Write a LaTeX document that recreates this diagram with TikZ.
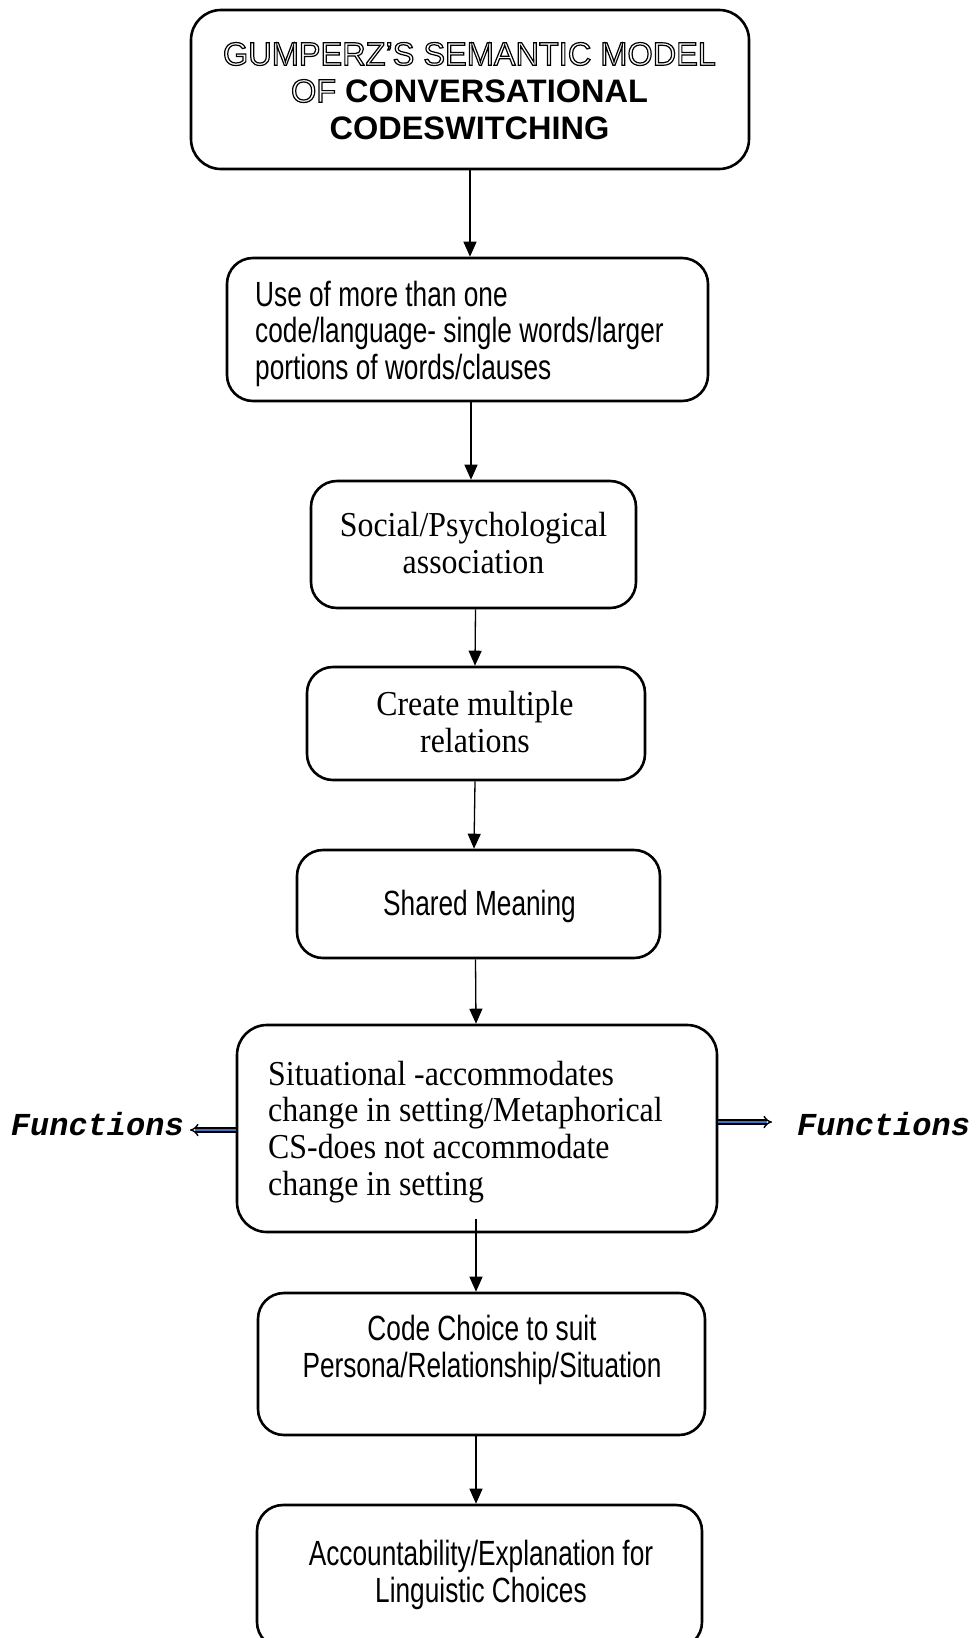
\documentclass[tikz,border=0pt]{standalone}
\usepackage{fontspec}
\setmainfont{Liberation Serif}
\newfontfamily\titlefont{Liberation Sans}
\newfontfamily\armfont[FakeStretch=0.75]{Liberation Sans}
\newfontfamily\tmfont[FakeStretch=0.91]{Liberation Serif}
\newfontfamily\crfont{Liberation Mono}
\usetikzlibrary{arrows.meta}
\newcommand{\outlinedtxt}[1]{\special{pdf:literal direct 1 Tr 1.2 w}#1\special{pdf:literal direct 0 Tr}}
\definecolor{funcblue}{HTML}{4472C4}
\begin{document}
\begin{tikzpicture}[x=1pt,y=-1pt,
  box/.style={draw, line width=2.6pt, rounded corners=26pt, inner sep=0pt, fill=white},
  ttl/.style={font=\titlefont\fontsize{32.5}{37}\selectfont, align=center, inner sep=0pt},
  arm/.style={font=\armfont\fontsize{35}{36.5}\selectfont, inner sep=0pt},
  tms/.style={font=\tmfont\fontsize{35}{36.7}\selectfont, inner sep=0pt},
  func/.style={font=\crfont\bfseries\itshape\fontsize{32}{32}\selectfont, inner sep=0pt},
  arr/.style={line width=1.3pt, -{Triangle[length=15pt,width=13pt]}},
  farr/.style={double=funcblue, double distance=2.8pt, line width=1.4pt, -{Implies}}
]
\fill[white] (0,0) rectangle (977,1638);
\useasboundingbox (0,0) rectangle (977,1638);

% boxes
\node[box, rounded corners=30pt, minimum width=558pt, minimum height=159pt] (b1) at (470,89.5) {};
\node[box, minimum width=481pt, minimum height=143pt] (b2) at (467.5,329.5) {};
\node[box, minimum width=325pt, minimum height=127pt] (b3) at (473.5,544.5) {};
\node[box, minimum width=338pt, minimum height=113pt] (b4) at (476,723.5) {};
\node[box, minimum width=363pt, minimum height=108pt] (b5) at (478.5,904) {};
\node[box, rounded corners=30pt, minimum width=480pt, minimum height=207pt] (b6) at (477,1128.5) {};
\node[box, minimum width=447pt, minimum height=142pt] (b7) at (481.5,1364) {};
\node[box, minimum width=445pt, minimum height=143pt] (b8) at (479.5,1576.5) {};

% texts
\node[ttl] (t1) at (469.5,91) {\outlinedtxt{GUMPERZ’S SEMANTIC MODEL}\\\outlinedtxt{OF} \textbf{CONVERSATIONAL}\\\textbf{CODESWITCHING}};
\node[arm, align=left, anchor=west] (t2) at (255,333.5) {Use of more than one\\code/language- single words/larger\\portions of words/clauses};
\node[tms, align=center] (t3) at (473.5,543) {Social/Psychological\\association};
\node[tms, align=center] (t4) at (475,721.8) {Create multiple\\relations};
\node[arm, align=center] (t5) at (479.5,906) {Shared Meaning};
\node[tms, align=left, anchor=west] (t6) at (268,1131.8) {Situational -accommodates\\change in setting/Metaphorical\\CS-does not accommodate\\change in setting};
\node[arm, align=center] (t7) at (482,1349.7) {Code Choice to suit\\Persona/Relationship/Situation};
\node[arm, align=center] (t8) at (481,1574.7) {Accountability/Explanation for\\Linguistic Choices};

% side labels
\node[func, anchor=base east] (fnl) at (184,1135) {Functions};
\node[func, anchor=base west] (fnr) at (797,1135) {Functions};

% connectors
\draw[arr] (b1.south -| 470,0) -- (b2.north -| 470,0);
\draw[arr] (b2.south -| 471,0) -- (b3.north -| 471,0);
\draw[arr] (b3.south -| 475.5,0) -- (b4.north -| 475,0);
\draw[arr] (b4.south -| 475,0) -- (b5.north -| 474,0);
\draw[arr] (b5.south -| 475.5,0) -- (b6.north -| 476,0);
\coordinate (a6s) at (476,1219);
\draw[arr] (a6s) -- (b7.north -| a6s);
\draw[arr] (b7.south -| 476,0) -- (b8.north -| 476,0);

\coordinate (fl) at (190,1130);
\coordinate (fr) at (772,1122);
\draw[farr] (b6.west |- fl) -- (fl);
\draw[farr] (b6.east |- fr) -- (fr);
\end{tikzpicture}
\end{document}
